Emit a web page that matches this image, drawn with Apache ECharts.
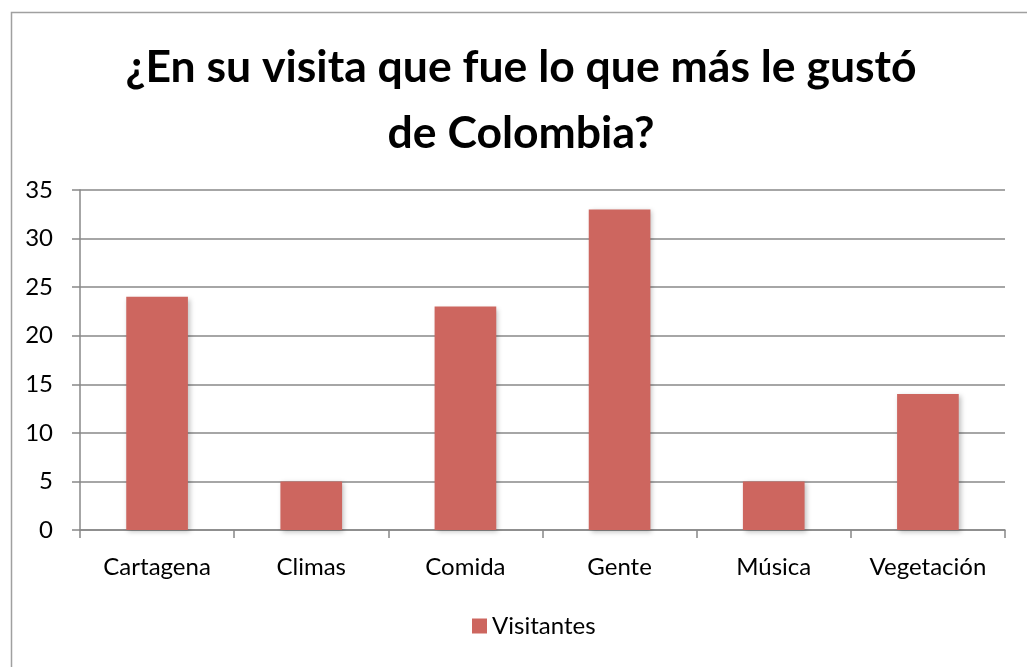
<!DOCTYPE html>
<html>
<head>
<meta charset="utf-8">
<script src="https://cdn.jsdelivr.net/npm/echarts@6/dist/echarts.min.js"></script>
<style>html,body{margin:0;padding:0;background:#fff}#c{width:1027px;height:667px}</style>
</head>
<body>
<div id="c"></div>
<script>
const titleText = '¿En su visita que fue lo que más le gustó\nde Colombia?';
const categories = ['Cartagena', 'Climas', 'Comida', 'Gente', 'Música', 'Vegetación'];
const seriesName = 'Visitantes';
const visitantes = [24, 5, 23, 33, 5, 14];
const yTicks = { min: 0, max: 35, interval: 5 };

const chart = echarts.init(document.getElementById('c'), null, { renderer: 'canvas' });
const font = 'Lato, "Open Sans", sans-serif';
chart.setOption({
  animation: false,
  backgroundColor: '#ffffff',
  graphic: [{
    type: 'rect', left: 9, top: 10, z: -1,
    shape: { width: 1030, height: 670 },
    style: { fill: 'none', stroke: '#a0a0a0', lineWidth: 1.5 }
  }],
  title: {
    text: titleText, left: 516, top: 30, textAlign: 'center',
    textStyle: { fontFamily: font, fontWeight: 'bold', fontSize: 44.5, lineHeight: 66, color: '#000' }
  },
  legend: {
    bottom: 24, left: 467, itemWidth: 15, itemHeight: 15, itemGap: 7,
    icon: 'rect',
    textStyle: { fontFamily: font, fontSize: 24, color: '#000' },
    data: [seriesName]
  },
  grid: { left: 80, right: 22, top: 190, bottom: 137 },
  xAxis: {
    type: 'category', data: categories,
    axisLine: { lineStyle: { color: '#888', width: 1.5 } },
    axisTick: { show: true, length: 8, alignWithLabel: false, lineStyle: { color: '#888', width: 1.5 } },
    axisLabel: { fontFamily: font, fontSize: 24, color: '#000', margin: 25 }
  },
  yAxis: {
    type: 'value', min: yTicks.min, max: yTicks.max, interval: yTicks.interval,
    axisLine: { show: true, lineStyle: { color: '#888', width: 1.5 } },
    axisTick: { show: true, length: 8, inside: false, lineStyle: { color: '#888', width: 1.5 } },
    splitLine: { lineStyle: { color: '#888', width: 1.5 } },
    axisLabel: { fontFamily: font, fontSize: 24, color: '#000', margin: 27 }
  },
  series: [{
    name: seriesName, type: 'bar', data: visitantes, barWidth: '40%',
    itemStyle: { color: '#CD665F', shadowColor: 'rgba(0,0,0,0.25)', shadowBlur: 5, shadowOffsetX: 2, shadowOffsetY: 2 }
  }]
});
</script>
</body>
</html>
